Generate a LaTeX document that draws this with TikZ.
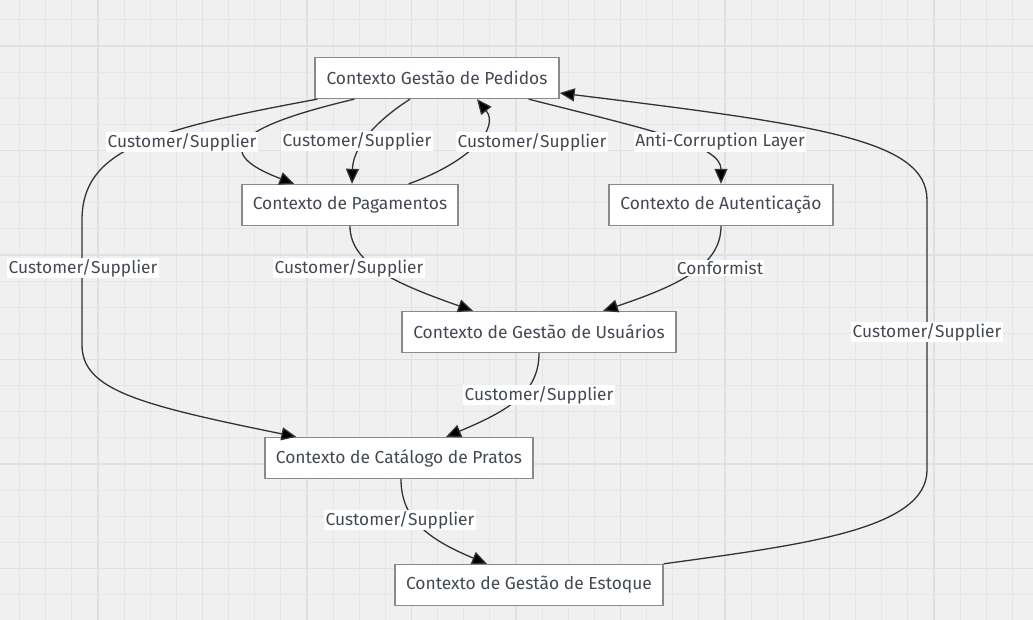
\documentclass[tikz,border=0pt]{standalone}
\usepackage{fontspec}
\setmainfont{Fira Sans}
\usetikzlibrary{arrows.meta}
\definecolor{bgc}{HTML}{F0F0F0}
\definecolor{gridminor}{HTML}{E6E6E6}
\definecolor{gridmajor}{HTML}{E0E0E0}
\definecolor{txt}{HTML}{434953}
\definecolor{boxline}{HTML}{8A8A8A}
\definecolor{edgec}{HTML}{333333}
\tikzset{
  ctx/.style={draw=boxline, line width=1.3bp, fill=white, text=txt,
    minimum height=41bp, inner sep=0pt, font=\fontsize{17.4bp}{20bp}\selectfont},
  lbl/.style={fill=white, text=txt, inner xsep=1.2bp, inner ysep=1.2bp,
    font=\fontsize{17.3bp}{20bp}\selectfont},
  rel/.style={draw=edgec, line width=1.3bp, -{Triangle[length=15bp,width=13bp,fill=black]}},
}
\begin{document}
\begin{tikzpicture}[x=1bp,y=-1bp]
\useasboundingbox (0,0) rectangle (1033,620);
\fill[bgc] (0,0) rectangle (1033,620);
% grid
\foreach \k in {0,...,41}{
  \pgfmathsetmacro{\xx}{-6.5+26.125*\k}
  \pgfmathtruncatemacro{\m}{mod(\k,4)}
  \ifnum\m=0
    \draw[gridmajor, line width=1.1bp] (\xx,0) -- (\xx,620);
  \else
    \draw[gridminor, line width=0.9bp] (\xx,0) -- (\xx,620);
  \fi
}
\foreach \k in {0,...,28}{
  \pgfmathsetmacro{\yy}{-58.5+26.125*\k}
  \pgfmathtruncatemacro{\m}{mod(\k,4)}
  \ifnum\m=0
    \draw[gridmajor, line width=1.1bp] (0,\yy) -- (1033,\yy);
  \else
    \draw[gridminor, line width=0.9bp] (0,\yy) -- (1033,\yy);
  \fi
}
% nodes
\node[ctx, minimum width=244bp] (ped) at (437,78) {Contexto Gestão de Pedidos};
\node[ctx, minimum width=216bp] (pag) at (350,205) {Contexto de Pagamentos};
\node[ctx, minimum width=224bp] (aut) at (721,205) {Contexto de Autenticação};
\node[ctx, minimum width=274bp] (usu) at (539,332) {Contexto de Gestão de Usuários};
\node[ctx, minimum width=268bp] (cat) at (399,458) {Contexto de Catálogo de Pratos};
\node[ctx, minimum width=268bp] (est) at (529,585) {Contexto de Gestão de Estoque};
% edges
\draw[rel] ([xshift=3bp]ped.south west) .. controls (150,130) and (82,150) .. (82,220)
  -- (82,345) .. controls (82,390) and (140,405) .. ([xshift=32bp]cat.north west);
\draw[rel] ([xshift=40bp]ped.south west) .. controls (245,125) and (205,150) .. ([xshift=53bp]pag.north west);
\draw[rel] ([xshift=-27bp]ped.south) .. controls (370,125) and (353,150) .. ([xshift=2bp]pag.north);
\draw[rel] ([xshift=-50bp]pag.north east) .. controls (470,162) and (500,128) .. ([xshift=40bp]ped.south);
\draw[rel] ([xshift=-31bp]ped.south east) .. controls (650,130) and (721,145) .. (aut.north);
\draw[rel] (pag.south) .. controls (350,265) and (400,285) .. ([xshift=-66bp]usu.north);
\draw[rel] (aut.south) .. controls (721,265) and (680,285) .. ([xshift=64bp]usu.north);
\draw[rel] (usu.south) .. controls (539,392) and (510,410) .. ([xshift=47bp]cat.north);
\draw[rel] ([xshift=2bp]cat.south) .. controls (401,520) and (430,540) .. ([xshift=-42bp]est.north);
\draw[rel] (est.north east) .. controls (800,545) and (927,530) .. (927,470)
  -- (927,200) .. controls (927,140) and (820,125) .. ([yshift=-15bp]ped.east);
% labels
\node[lbl] (l1) at (182,142) {Customer/Supplier};
\node[lbl] (l2) at (357,141) {Customer/Supplier};
\node[lbl] (l3) at (532,142) {Customer/Supplier};
\node[lbl] (l4) at (720,142) {Anti-Corruption Layer};
\node[lbl] (l5) at (83,268) {Customer/Supplier};
\node[lbl] (l6) at (349,268) {Customer/Supplier};
\node[lbl] (l7) at (720,268) {Conformist};
\node[lbl] (l8) at (927,332) {Customer/Supplier};
\node[lbl] (l9) at (539,395) {Customer/Supplier};
\node[lbl] (l10) at (400,520) {Customer/Supplier};
\end{tikzpicture}
\end{document}
